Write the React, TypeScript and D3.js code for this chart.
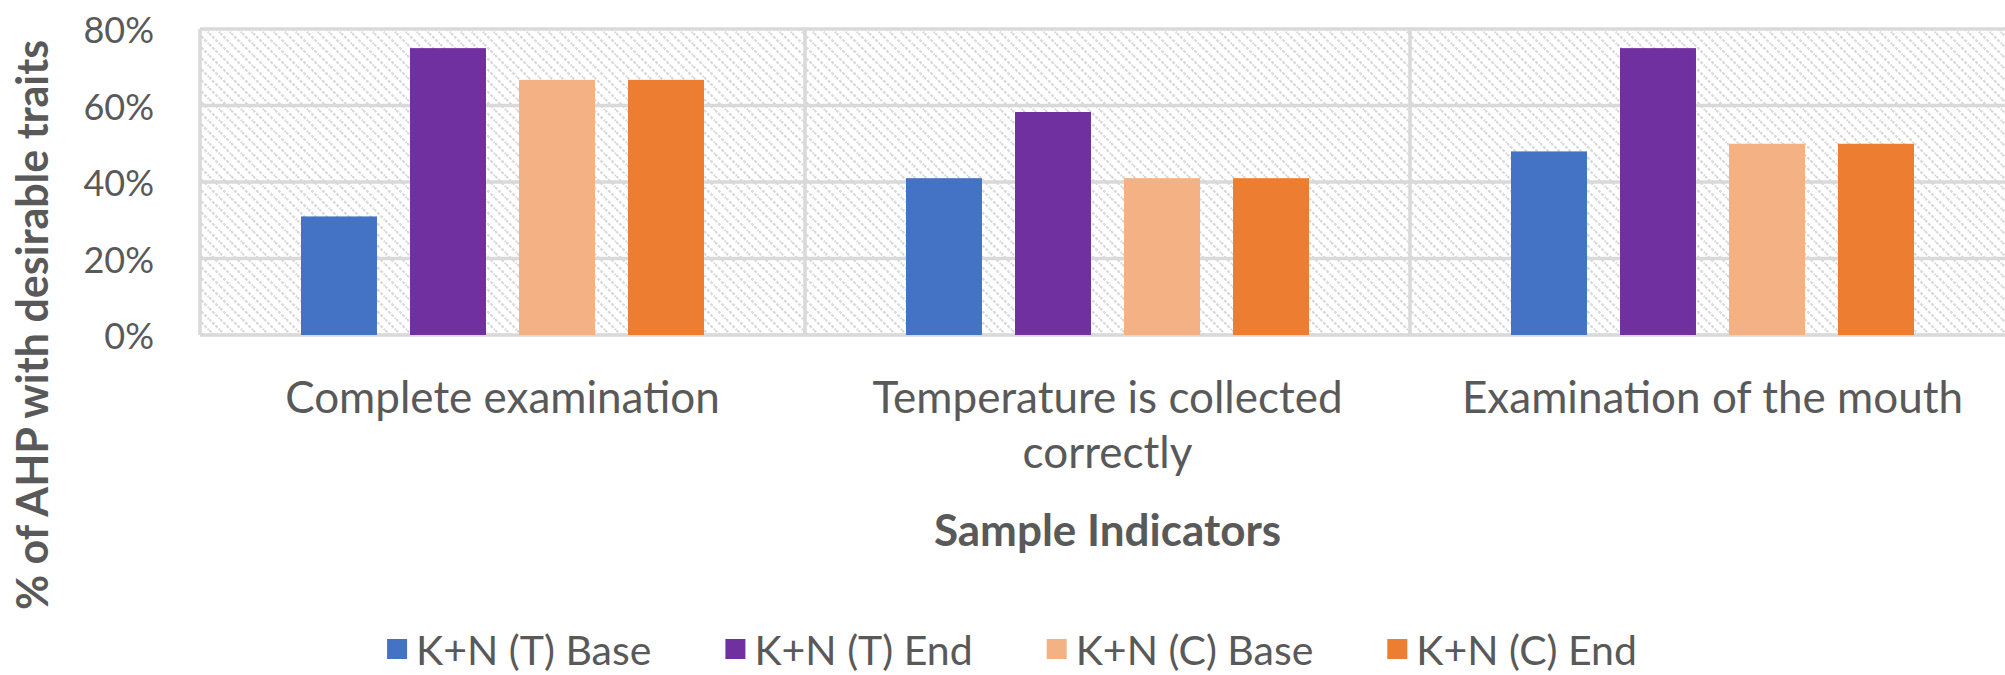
import React, { useEffect, useRef } from "react";
import * as d3 from "d3";

const categories = [
  "Complete examination",
  "Temperature is collected correctly",
  "Examination of the mouth",
];
const seriesNames = ["K+N (T) Base", "K+N (T) End", "K+N (C) Base", "K+N (C) End"];
const seriesColors = ["#4472C4", "#7030A0", "#F4B183", "#ED7D31"];
const tBase = [0.31, 0.41, 0.48];
const tEnd = [0.75, 0.583, 0.75];
const cBase = [0.667, 0.41, 0.5];
const cEnd = [0.667, 0.41, 0.5];
const yTicks = [0, 0.2, 0.4, 0.6, 0.8];
const yTitle = "% of AHP with desirable traits";
const xTitle = "Sample Indicators";

const W = 2005;
const H = 675;
const FONT = "Lato, 'Open Sans', sans-serif";
const TXT = "#595959";
const GRID = "#d9d9d9";

export default function App() {
  const ref = useRef<SVGSVGElement | null>(null);

  useEffect(() => {
    const svg = d3.select(ref.current);
    svg.selectAll("*").remove();

    const series = [tBase, tEnd, cBase, cEnd];
    const left = 200, right = 2015, top = 29, bottom = 335;

    const x = d3.scaleBand<string>().domain(categories).range([left, right]).padding(0);
    const xs = d3.scaleBand<string>().domain(seriesNames).range([101, 504]).paddingInner(0.303);
    const y = d3.scaleLinear().domain([0, 0.8]).range([bottom, top]);

    const defs = svg.append("defs");
    const pat = defs
      .append("pattern")
      .attr("id", "hatch")
      .attr("patternUnits", "userSpaceOnUse")
      .attr("width", 11)
      .attr("height", 11);
    pat.append("rect").attr("width", 11).attr("height", 11).attr("fill", "#ffffff");
    pat
      .append("path")
      .attr("d", "M0,0 L11,11 M-5.5,5.5 L5.5,16.5 M5.5,-5.5 L16.5,5.5")
      .attr("stroke", "#d9d9d9")
      .attr("stroke-width", 2.2)
      .attr("stroke-dasharray", "3,1.6");

    svg.append("rect").attr("width", W).attr("height", H).attr("fill", "#ffffff");

    // plot background
    svg
      .append("rect")
      .attr("x", left)
      .attr("y", top)
      .attr("width", right - left)
      .attr("height", bottom - top)
      .attr("fill", "url(#hatch)");

    // horizontal gridlines
    svg
      .append("g")
      .selectAll("line")
      .data(yTicks)
      .join("line")
      .attr("x1", left)
      .attr("x2", right)
      .attr("y1", (d) => y(d))
      .attr("y2", (d) => y(d))
      .attr("stroke", GRID)
      .attr("stroke-width", 3.5);

    // vertical category separators
    const seps = categories.map((c) => x(c) as number).concat([right]);
    svg
      .append("g")
      .selectAll("line")
      .data(seps)
      .join("line")
      .attr("x1", (d) => d)
      .attr("x2", (d) => d)
      .attr("y1", top)
      .attr("y2", bottom)
      .attr("stroke", GRID)
      .attr("stroke-width", 3.5);

    // bars
    categories.forEach((c, ci) => {
      const g = svg.append("g").attr("transform", `translate(${x(c)},0)`);
      g.selectAll("rect")
        .data(seriesNames)
        .join("rect")
        .attr("x", (s) => xs(s) as number)
        .attr("width", xs.bandwidth())
        .attr("y", (s, si) => y(series[si][ci]))
        .attr("height", (s, si) => bottom - y(series[si][ci]))
        .attr("fill", (s, si) => seriesColors[si]);
    });

    // y tick labels
    svg
      .append("g")
      .selectAll("text")
      .data(yTicks)
      .join("text")
      .attr("x", 154)
      .attr("y", (d) => y(d))
      .attr("text-anchor", "end")
      .attr("dominant-baseline", "central")
      .attr("font-family", FONT)
      .attr("font-size", 36)
      .attr("fill", TXT)
      .text((d) => d3.format(".0%")(d));

    // x category labels with wrapping
    const xl = svg.append("g");
    categories.forEach((c) => {
      const cxm = (x(c) as number) + x.bandwidth() / 2;
      const t = xl
        .append("text")
        .attr("x", cxm)
        .attr("y", 413)
        .attr("text-anchor", "middle")
        .attr("font-family", FONT)
        .attr("font-size", 44)
        .attr("fill", TXT);
      const words = c.split(" ");
      let line: string[] = [];
      let tspan = t.append("tspan").attr("x", cxm).attr("dy", 0);
      words.forEach((w) => {
        line.push(w);
        tspan.text(line.join(" "));
        const node = tspan.node() as SVGTSpanElement;
        if (node.getComputedTextLength() > 570 && line.length > 1) {
          line.pop();
          tspan.text(line.join(" "));
          line = [w];
          tspan = t.append("tspan").attr("x", cxm).attr("dy", 55).text(w);
        }
      });
    });

    // axis titles
    svg
      .append("text")
      .attr("x", (left + right) / 2)
      .attr("y", 546)
      .attr("text-anchor", "middle")
      .attr("font-family", FONT)
      .attr("font-weight", "bold")
      .attr("font-size", 44)
      .attr("fill", TXT)
      .text(xTitle);

    svg
      .append("text")
      .attr("transform", "translate(31,325) rotate(-90)")
      .attr("text-anchor", "middle")
      .attr("dominant-baseline", "central")
      .attr("font-family", FONT)
      .attr("font-weight", "bold")
      .attr("font-size", 43)
      .attr("fill", TXT)
      .text(yTitle);

    // legend
    const lg = svg.append("g");
    const sw = 20, gapSw = 9, gapItem = 74, ly = 649;
    const items = seriesNames.map((s, i) => {
      const g = lg.append("g");
      g.append("rect")
        .attr("x", 0)
        .attr("y", ly - sw / 2)
        .attr("width", sw)
        .attr("height", sw)
        .attr("fill", seriesColors[i]);
      const t = g
        .append("text")
        .attr("x", sw + gapSw)
        .attr("y", ly)
        .attr("dominant-baseline", "central")
        .attr("font-family", FONT)
        .attr("font-size", 41)
        .attr("fill", TXT)
        .text(s);
      const w = sw + gapSw + (t.node() as SVGTextElement).getComputedTextLength();
      return { g, w };
    });
    const total = d3.sum(items, (d) => d.w) + gapItem * (items.length - 1);
    let cx = 1012 - total / 2;
    items.forEach((it) => {
      it.g.attr("transform", `translate(${cx},0)`);
      cx += it.w + gapItem;
    });
  }, []);

  return (
    <svg
      ref={ref}
      width={W}
      height={H}
      style={{ position: "absolute", left: 0, top: 0, display: "block" }}
    />
  );
}
